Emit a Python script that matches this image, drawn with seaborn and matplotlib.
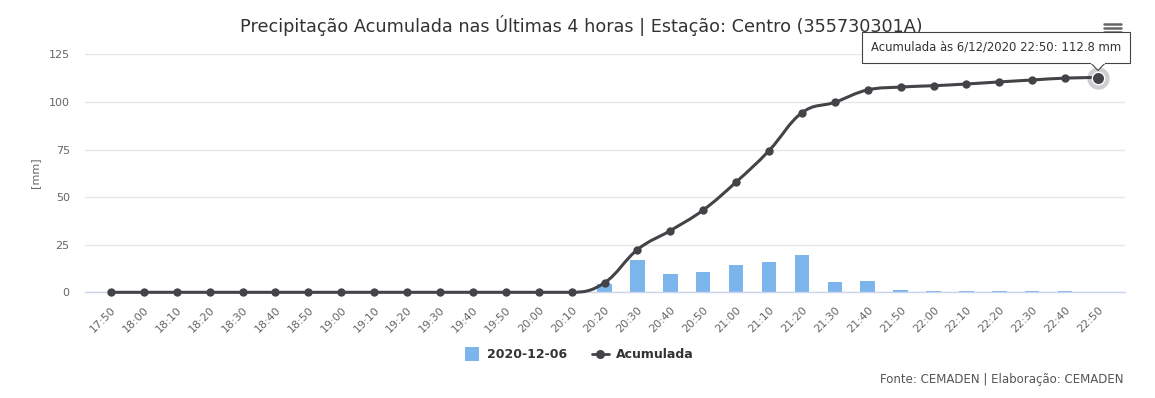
"""Precipitação acumulada nas últimas 4 horas - estação Centro (CEMADEN)."""

import matplotlib

matplotlib.use("Agg")
import matplotlib.pyplot as plt
import numpy as np
import pandas as pd
import seaborn as sns
from matplotlib.lines import Line2D
from matplotlib.patches import PathPatch, Polygon
from matplotlib.path import Path

times = [
    "17:50", "18:00", "18:10", "18:20", "18:30", "18:40", "18:50",
    "19:00", "19:10", "19:20", "19:30", "19:40", "19:50", "20:00",
    "20:10", "20:20", "20:30", "20:40", "20:50", "21:00", "21:10",
    "21:20", "21:30", "21:40", "21:50", "22:00", "22:10", "22:20",
    "22:30", "22:40", "22:50",
]
rain_10min = [
    0, 0, 0, 0, 0, 0, 0, 0, 0, 0, 0, 0, 0, 0, 0,
    4.4, 17.0, 9.6, 10.7, 14.3, 15.8, 19.5, 5.3, 5.8,
    1.0, 0.5, 0.5, 0.5, 0.5, 0.5, 0.0,
]
accumulated = [
    0, 0, 0, 0, 0, 0, 0, 0, 0, 0, 0, 0, 0, 0, 0,
    5.0, 22.4, 32.4, 43.2, 57.9, 74.4, 94.3, 99.8, 106.3,
    107.8, 108.5, 109.4, 110.5, 111.5, 112.5, 112.8,
]
y_ticks = [0, 25, 50, 75, 100, 125]

BAR_COLOR = "#7cb5ec"
LINE_COLOR = "#434348"
GRID_COLOR = "#e6e6e6"
AXIS_COLOR = "#ccd6eb"
LABEL_COLOR = "#666666"
TITLE_COLOR = "#333333"

W, H = 1155, 398


def spline_path(xs, ys, smoothing=1.5):
    """Bezier path like the Highcharts spline series."""
    n = len(xs)
    left = [(x, y) for x, y in zip(xs, ys)]
    right = [(x, y) for x, y in zip(xs, ys)]
    denom = smoothing + 1
    for i in range(1, n - 1):
        x, y = xs[i], ys[i]
        lx = (smoothing * x + xs[i - 1]) / denom
        ly = (smoothing * y + ys[i - 1]) / denom
        rx = (smoothing * x + xs[i + 1]) / denom
        ry = (smoothing * y + ys[i + 1]) / denom
        if rx != lx:
            corr = (ry - ly) * (rx - x) / (rx - lx) + y - ry
            ly += corr
            ry += corr
        if ly > ys[i - 1] and ly > y:
            ly = max(ys[i - 1], y)
            ry = 2 * y - ly
        elif ly < ys[i - 1] and ly < y:
            ly = min(ys[i - 1], y)
            ry = 2 * y - ly
        if ry > ys[i + 1] and ry > y:
            ry = max(ys[i + 1], y)
            ly = 2 * y - ry
        elif ry < ys[i + 1] and ry < y:
            ry = min(ys[i + 1], y)
            ly = 2 * y - ry
        left[i] = (lx, ly)
        right[i] = (rx, ry)
    verts = [(xs[0], ys[0])]
    codes = [Path.MOVETO]
    for i in range(1, n):
        verts += [right[i - 1], left[i], (xs[i], ys[i])]
        codes += [Path.CURVE4] * 3
    return Path(verts, codes)


df = pd.DataFrame({"hora": times, "chuva": rain_10min, "acumulada": accumulated})
df["pos"] = np.arange(len(df))

sns.set_theme(style="white")
plt.rcParams["font.family"] = ["DejaVu Sans"]

fig = plt.figure(figsize=(W / 100, H / 100), dpi=100)
ax = fig.add_axes([85 / W, (H - 292.3) / H, 1040 / W, 238 / H])

sns.barplot(data=df, x="hora", y="chuva", color=BAR_COLOR, width=0.44,
            saturation=1, linewidth=0, ax=ax, zorder=2)

path = spline_path(df["pos"].tolist(), df["acumulada"].tolist())
ax.add_patch(PathPatch(path, facecolor="none", edgecolor=LINE_COLOR,
                       lw=2.2, zorder=3, clip_on=False, capstyle="round"))
sns.scatterplot(data=df, x="pos", y="acumulada", color=LINE_COLOR, s=36,
                linewidth=0, ax=ax, zorder=4, clip_on=False, legend=False)

# hovered point with halo
last = df.iloc[-1]
ax.scatter([last["pos"]], [last["acumulada"]], s=260, color=LINE_COLOR,
           alpha=0.25, linewidth=0, zorder=4, clip_on=False)
ax.scatter([last["pos"]], [last["acumulada"]], s=80, color=LINE_COLOR,
           edgecolor="white", linewidth=1, zorder=5, clip_on=False)

ax.set_xlim(-0.79, 30.82)
ax.set_ylim(0, 125)
ax.set_yticks(y_ticks)
ax.set_yticklabels([str(v) for v in y_ticks])
ax.set_xticks(df["pos"])
ax.set_xticklabels(times)
ax.set_xlabel("")
ax.set_ylabel("")
ax.yaxis.grid(True, color=GRID_COLOR, lw=1)
ax.set_axisbelow(True)
for side in ["top", "right", "left"]:
    ax.spines[side].set_visible(False)
ax.spines["bottom"].set_color(AXIS_COLOR)
ax.spines["bottom"].set_linewidth(1)
ax.tick_params(axis="y", length=0, pad=11, labelsize=8, labelcolor=LABEL_COLOR)
ax.tick_params(axis="x", length=7, width=1, color=AXIS_COLOR, pad=2,
               labelsize=8, labelcolor=LABEL_COLOR)
for lbl in ax.get_xticklabels():
    lbl.set_rotation(45)
    lbl.set_ha("right")
    lbl.set_va("top")
    lbl.set_rotation_mode("anchor")

fig.text(35 / W, 1 - 173 / H, "[mm]", rotation=90, ha="center", va="center",
         fontsize=8, color=LABEL_COLOR)
fig.text(581 / W, 1 - 25 / H,
         "Precipitação Acumulada nas Últimas 4 horas | Estação: Centro (355730301A)",
         ha="center", va="center", fontsize=12.7, color=TITLE_COLOR)

# export menu icon
for yy in (24, 28, 32):
    fig.add_artist(Line2D([1104 / W, 1121 / W], [1 - yy / H, 1 - yy / H],
                          color="#666666", lw=1.8, zorder=1))

# tooltip box, then its pointer drawn over the bottom edge
fig.text(996 / W, 1 - 47.5 / H, "Acumulada às 6/12/2020 22:50: 112.8 mm",
         ha="center", va="center", fontsize=8.4, color=TITLE_COLOR, zorder=9,
         bbox=dict(boxstyle="square,pad=0.78", facecolor="white",
                   edgecolor=LINE_COLOR, lw=0.8))
fig.add_artist(Polygon([[1091 / W, 1 - 63.2 / H], [1098 / W, 1 - 70.5 / H],
                        [1105 / W, 1 - 63.2 / H]], closed=False,
                       facecolor="white", edgecolor=LINE_COLOR, lw=0.8, zorder=11))
fig.add_artist(Line2D([1091.8 / W, 1104.2 / W], [1 - 62.8 / H, 1 - 62.8 / H],
                      color="white", lw=1.6, zorder=12))

handles = [
    Line2D([], [], marker="s", linestyle="none", markersize=10.5,
           markerfacecolor=BAR_COLOR, markeredgewidth=0),
    Line2D([], [], marker="o", color=LINE_COLOR, lw=2, markersize=5.5),
]
leg = fig.legend(handles, ["2020-12-06", "Acumulada"], loc="center",
                 bbox_to_anchor=(578 / W, 1 - 355 / H), ncol=2, frameon=False,
                 handlelength=1.4, handletextpad=0.5, columnspacing=2.0,
                 prop={"size": 9, "weight": "bold"})
for txt in leg.get_texts():
    txt.set_color(TITLE_COLOR)

fig.text(1123 / W, 1 - 380 / H, "Fonte: CEMADEN | Elaboração: CEMADEN",
         ha="right", va="center", fontsize=8.5, color="#555555")

fig.savefig("out.png", dpi=100)
